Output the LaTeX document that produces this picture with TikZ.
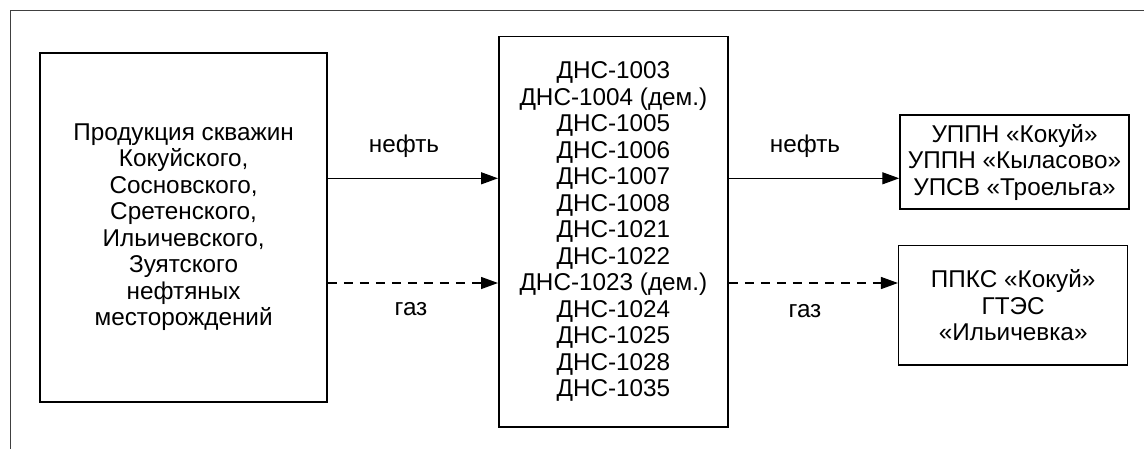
\documentclass[tikz,border=0pt]{standalone}
\usepackage{fontspec}
\setmainfont{Liberation Sans}
\usetikzlibrary{arrows.meta}
\begin{document}
\begin{tikzpicture}[x=1pt,y=-1pt,
  every node/.style={font=\fontsize{24.3}{26.5}\selectfont, inner sep=0pt},
  unit/.style={draw=black, line width=1.5pt, align=center},
  flow/.style={line width=1.3pt, -{Triangle[length=17pt,width=12pt]}},
  gasflow/.style={flow, dash pattern=on 9pt off 7pt},
  tag/.style={anchor=center}]
  \useasboundingbox (0,0) rectangle (1144,448);
  % outer frame (top and left edges within the page)
  \draw[draw=black!75, line width=1.5pt] (1150,10.7) -- (10.7,10.7) -- (10.7,460);

  \node[unit, minimum width=287pt, minimum height=349.3pt] (src) at (183.6,227.4)
    {Продукция скважин\\Кокуйского,\\Сосновского,\\Сретенского,\\Ильичевского,\\Зуятского\\нефтяных\\месторождений};
  \node[unit, minimum width=229.3pt, minimum height=390.3pt] (dns) at (613.4,231.8)
    {ДНС-1003\\ДНС-1004 (дем.)\\ДНС-1005\\ДНС-1006\\ДНС-1007\\ДНС-1008\\ДНС-1021\\ДНС-1022\\ДНС-1023 (дем.)\\ДНС-1024\\ДНС-1025\\ДНС-1028\\ДНС-1035};
  \node[unit, minimum width=229pt, minimum height=93.7pt] (oilrcv) at (1014.5,162)
    {УППН «Кокуй»\\УППН «Кыласово»\\УПСВ «Троельга»};
  \node[unit, minimum width=229pt, minimum height=119.3pt] (gasrcv) at (1013.2,305.3)
    {ППКС «Кокуй»\\ГТЭС\\«Ильичевка»};

  \coordinate (yoil) at (0,178.3);
  \coordinate (ygas) at (0,283);

  \draw[flow] (src.east |- yoil) -- (dns.west |- yoil);
  \draw[gasflow] (src.east |- ygas) -- (dns.west |- ygas);
  \draw[flow] (dns.east |- yoil) -- (oilrcv.west |- yoil);
  \draw[gasflow] (dns.east |- ygas) -- (gasrcv.west |- ygas);

  \node[tag] (oil1) at (404,146) {нефть};
  \node[tag] (gas1) at (411,309) {газ};
  \node[tag] (oil2) at (805,146) {нефть};
  \node[tag] (gas2) at (805,311) {газ};
\end{tikzpicture}
\end{document}
